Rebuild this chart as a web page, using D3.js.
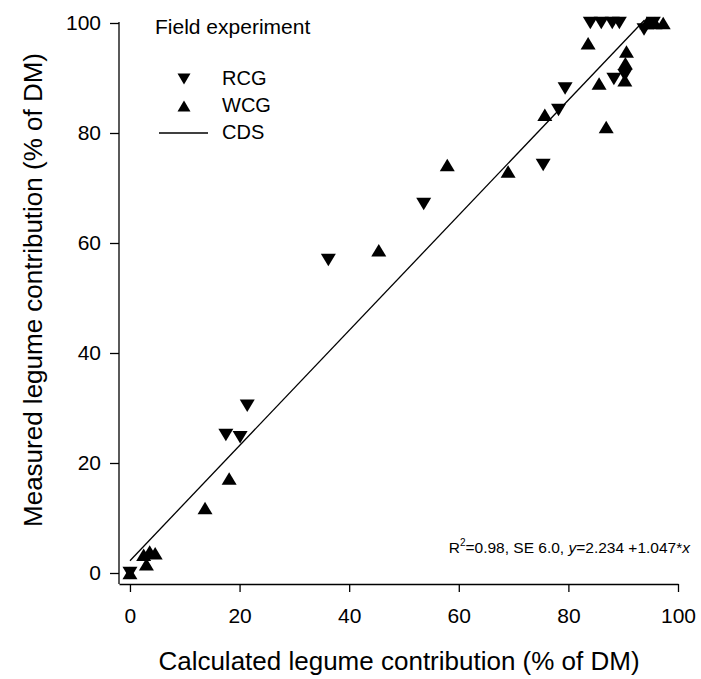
<!DOCTYPE html>
<html><head><meta charset="utf-8">
<script src="https://cdn.jsdelivr.net/npm/d3@7"></script>
<style>body{margin:0;background:#fff}svg{display:block}text{font-family:"Liberation Sans",Arial,sans-serif;fill:#000}</style>
</head><body>
<svg id="c" width="701" height="679"></svg>
<script>
const rcgX = [0, 17.5, 20.1, 21.4, 36.2, 53.6, 75.4, 78.2, 79.4, 84.0, 86.0, 88.0, 89.3, 88.3, 90.3, 93.8, 95.5];
const rcgY = [0, 25.1, 24.7, 30.4, 56.9, 67.1, 74.2, 84.2, 88.1, 100, 100, 100, 100, 89.8, 90.5, 98.8, 100];
const wcgX = [0, 2.5, 3.6, 4.6, 3.0, 13.7, 18.1, 45.4, 57.9, 69.0, 75.7, 85.6, 86.9, 83.6, 90.3, 90.4, 90.6, 94.3, 97.3, 95.8];
const wcgY = [0, 3.3, 3.9, 3.6, 1.6, 11.8, 17.2, 58.7, 74.2, 73.0, 83.3, 89.0, 81.1, 96.3, 89.6, 92.7, 94.8, 100, 100, 100];
const xTicks = [0, 20, 40, 60, 80, 100];
const yTicks = [0, 20, 40, 60, 80, 100];
const fitIntercept = 2.234, fitSlope = 1.047;
const fitRange = [0, 93.9];
const legendLabels = ["RCG", "WCG", "CDS"];

const svg = d3.select("#c");
const x = d3.scaleLinear().domain([-2, 100]).range([119, 678]);
const y = d3.scaleLinear().domain([-2, 100]).range([584, 23]);

const fmt = d3.format("d");
const gx = svg.append("g").attr("transform", "translate(0,584)")
  .call(d3.axisBottom(x).tickValues(xTicks).tickSizeOuter(0).tickSizeInner(8).tickPadding(16).tickFormat(fmt));
const gy = svg.append("g").attr("transform", "translate(119,0)")
  .call(d3.axisLeft(y).tickValues(yTicks).tickSizeOuter(0).tickSizeInner(9).tickPadding(9).tickFormat(fmt));
[gx, gy].forEach(g => {
  g.selectAll("path,line").attr("stroke", "#000").attr("stroke-width", 1.3);
  g.selectAll("text").style("font-size", "21px").attr("fill", "#000");
});
gy.select("path.domain").attr("d", `M0,${y(100)-1}V584`);

const line = d3.line().x(d => x(d)).y(d => y(fitIntercept + fitSlope * d));
svg.append("path").attr("d", line(fitRange)).attr("fill", "none").attr("stroke", "#000").attr("stroke-width", 1.3);

function tri(cx, cy, w, h, down) {
  const s = down ? 1 : -1;
  return `M${cx - w/2},${cy - s*h/2}L${cx + w/2},${cy - s*h/2}L${cx},${cy + s*h/2}Z`;
}
const TW = 15, TH = 12.5;
svg.append("g").selectAll("path").data(d3.range(rcgX.length)).join("path")
  .attr("d", i => tri(x(rcgX[i]), y(rcgY[i]), TW, TH, true)).attr("fill", "#000");
svg.append("g").selectAll("path").data(d3.range(wcgX.length)).join("path")
  .attr("d", i => tri(x(wcgX[i]), y(wcgY[i]), TW, TH, false)).attr("fill", "#000");

svg.append("text").attr("x", 155).attr("y", 34).style("font-size", "21px").text("Field experiment");
svg.append("path").attr("d", tri(184, 79, 13, 11, true)).attr("fill", "#000");
svg.append("path").attr("d", tri(184, 106, 13, 11, false)).attr("fill", "#000");
svg.append("line").attr("x1", 159).attr("x2", 208).attr("y1", 133).attr("y2", 133).attr("stroke", "#000").attr("stroke-width", 1.3);
[85, 112, 139].forEach((b, i) => svg.append("text").attr("x", 222).attr("y", b).style("font-size", "20px").text(legendLabels[i]));

const ann = svg.append("text").attr("x", 690).attr("y", 553).attr("text-anchor", "end").style("font-size", "15.5px");
ann.append("tspan").text("R");
ann.append("tspan").attr("dy", -7).style("font-size", "10px").text("2");
ann.append("tspan").attr("dy", 7).text("=0.98, SE 6.0, ");
ann.append("tspan").style("font-style", "italic").text("y");
ann.append("tspan").text("=2.234 +1.047*");
ann.append("tspan").style("font-style", "italic").text("x");

svg.append("text").attr("x", 399).attr("y", 670).attr("text-anchor", "middle").style("font-size", "26px")
  .text("Calculated legume contribution (% of DM)");
svg.append("text").attr("transform", "translate(42,290) rotate(-90)").attr("text-anchor", "middle").style("font-size", "26px")
  .text("Measured legume contribution (% of DM)");
</script>
</body></html>
